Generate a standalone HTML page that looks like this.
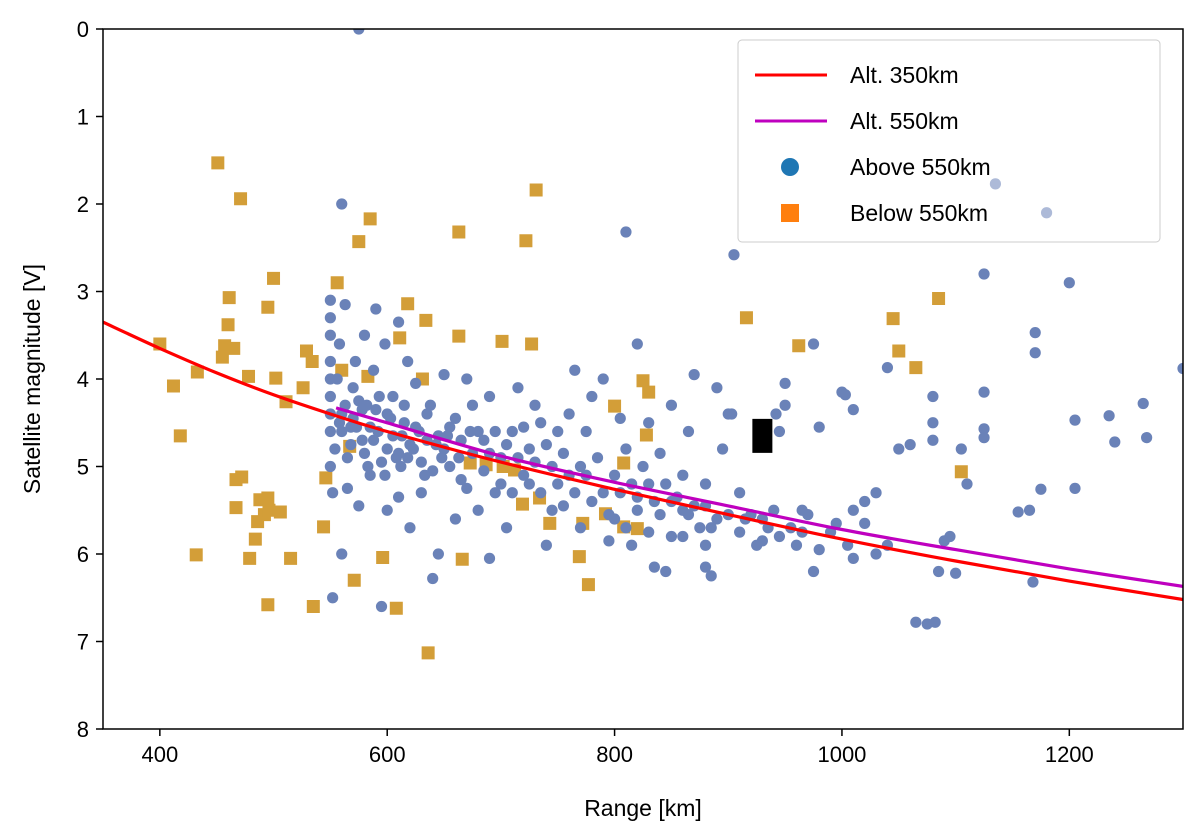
<!DOCTYPE html>
<html><head><meta charset="utf-8"><style>
html,body{margin:0;padding:0;background:#fff;}
svg{display:block;font-family:"Liberation Sans","DejaVu Sans",sans-serif;}
</style></head><body>
<svg id="chart" width="1200" height="838" viewBox="0 0 1200 838" xmlns="http://www.w3.org/2000/svg">
<g id="pts"></g>
<g id="curves"></g>
<rect x="103" y="29" width="1080" height="700" fill="none" stroke="#000" stroke-width="1.5"/>
<g id="axes"></g>
<text x="643" y="816" font-size="23" text-anchor="middle">Range [km]</text>
<text transform="translate(40,379) rotate(-90)" font-size="23" text-anchor="middle">Satellite magnitude [V]</text>
<g>
<rect x="738" y="40" width="422" height="202" rx="4" fill="#fff" fill-opacity="0.85" stroke="#ccc"/>
<line x1="755" y1="75" x2="827" y2="75" stroke="#ff0000" stroke-width="3"/>
<text x="850" y="83" font-size="23">Alt. 350km</text>
<line x1="755" y1="121" x2="827" y2="121" stroke="#bf00bf" stroke-width="3"/>
<text x="850" y="129" font-size="23">Alt. 550km</text>
<circle cx="790" cy="167" r="9" fill="#1f77b4"/>
<text x="850" y="175" font-size="23">Above 550km</text>
<rect x="781" y="204" width="18" height="18" fill="#ff7f0e"/>
<text x="850" y="221" font-size="23">Below 550km</text>
</g>
<g id="over"></g>
</svg>
<script>
const xTicks=[400,600,800,1000,1200];
const yTicks=[0,1,2,3,4,5,6,7,8];
const redRange=[350,400,450,500,550,600,700,800,900,1000,1100,1200,1300];
const redMag=[3.35,3.65,3.93,4.18,4.4,4.6,4.95,5.26,5.55,5.83,6.08,6.31,6.52];
const magentaRange=[555,600,700,800,900,1000,1100,1200,1300];
const magentaMag=[4.33,4.5,4.88,5.18,5.45,5.72,5.95,6.17,6.37];
const belowPts=[[400,3.6],[412,4.08],[418,4.65],[433,3.92],[432,6.01],[451,1.53],[471,1.94],[461,3.07],[460,3.38],[457,3.62],[455,3.75],[465,3.65],[478,3.97],[467,5.15],[472,5.12],[467,5.47],[479,6.05],[484,5.83],[486,5.63],[488,5.38],[495,5.36],[492,5.55],[496,5.5],[506,5.52],[495,6.58],[500,2.85],[495,3.18],[502,3.99],[511,4.26],[515,6.05],[526,4.1],[529,3.68],[534,3.8],[535,6.6],[544,5.69],[546,5.13],[556,2.9],[560,3.9],[567,4.77],[575,2.43],[571,6.3],[583,3.97],[585,2.17],[596,6.04],[608,6.62],[611,3.53],[618,3.14],[634,3.33],[631,4.0],[636,7.13],[663,2.32],[663,3.51],[666,6.06],[673,4.96],[687,4.98],[702,5.0],[701,3.57],[712,5.04],[719,5.43],[722,2.42],[727,3.6],[731,1.84],[734,5.36],[743,5.65],[769,6.03],[772,5.65],[777,6.35],[792,5.54],[800,4.31],[808,4.96],[808,5.69],[820,5.71],[825,4.02],[830,4.15],[828,4.64],[916,3.3],[962,3.62],[1045,3.31],[1050,3.68],[1065,3.87],[1085,3.08],[1105,5.06]];
const abovePts=[[560,2.0],[810,2.32],[905,2.58],[1200,2.9],[1125,2.8],[1170,3.47],[1170,3.7],[1300,3.88],[1265,4.28],[1268,4.67],[1240,4.72],[1235,4.42],[1205,4.47],[1205,5.25],[1175,5.26],[1165,5.5],[1155,5.52],[1168,6.32],[1125,4.57],[1125,4.67],[1125,4.15],[1105,4.8],[1110,5.2],[1100,6.22],[1085,6.2],[1090,5.85],[1095,5.8],[1080,4.5],[1080,4.7],[1080,4.2],[1050,4.8],[1060,4.75],[1040,3.87],[1065,6.78],[1075,6.8],[1082,6.78],[1040,5.9],[1030,5.3],[1030,6.0],[1020,5.65],[1020,5.4],[1010,5.5],[1005,5.9],[1010,6.05],[1010,4.35],[1000,4.15],[1003,4.18],[975,3.6],[980,4.55],[995,5.65],[975,6.2],[980,5.95],[965,5.75],[965,5.5],[955,5.7],[950,4.05],[950,4.3],[942,4.4],[945,4.6],[940,5.5],[930,5.6],[930,5.85],[925,5.9],[915,5.6],[910,5.3],[903,4.4],[900,4.4],[895,4.8],[890,4.1],[885,5.7],[880,5.2],[880,5.9],[880,6.15],[885,6.25],[870,3.95],[865,4.6],[860,5.1],[860,5.5],[850,4.3],[850,5.4],[845,6.2],[840,4.85],[835,6.15],[830,4.5],[830,5.2],[820,3.6],[820,5.35],[815,5.9],[810,4.8],[805,4.45],[800,5.6],[795,5.85],[790,4.0],[780,4.2],[775,4.6],[770,5.0],[765,3.9],[760,4.4],[755,4.85],[750,5.2],[745,5.5],[740,5.9],[735,4.5],[730,4.3],[725,4.8],[720,5.1],[715,4.1],[710,4.6],[705,5.7],[700,4.9],[695,5.3],[690,6.05],[690,4.2],[685,4.7],[680,5.5],[675,4.3],[670,4.0],[665,5.15],[660,5.6],[655,4.55],[650,3.95],[648,4.9],[645,6.0],[640,6.28],[638,4.3],[635,4.7],[630,5.3],[625,4.05],[620,5.7],[618,3.8],[615,4.5],[612,5.0],[610,3.35],[605,4.2],[600,4.8],[600,5.5],[598,3.6],[595,6.6],[592,4.6],[590,3.2],[588,3.9],[585,5.1],[582,4.3],[580,3.5],[578,4.7],[575,5.45],[572,3.8],[570,4.1],[568,4.55],[565,5.25],[563,3.15],[560,6.0],[560,4.4],[558,3.6],[556,4.0],[554,4.8],[552,6.5],[550,3.1],[550,3.3],[550,3.5],[550,3.8],[550,4.0],[550,4.2],[550,4.4],[550,4.6],[550,5.0],[552,5.3],[575,0.0],[610,5.35],[560,4.6],[565,4.9],[570,4.45],[575,4.25],[580,4.85],[585,4.55],[590,4.35],[595,4.95],[600,4.4],[605,4.65],[610,4.85],[615,4.3],[620,4.75],[625,4.55],[630,4.95],[635,4.4],[640,5.05],[645,4.65],[650,4.8],[655,5.0],[660,4.45],[665,4.7],[670,5.25],[675,4.85],[680,4.6],[685,5.05],[690,4.85],[695,4.6],[700,5.2],[705,4.75],[710,5.3],[715,4.9],[720,4.55],[725,5.2],[730,4.95],[735,5.3],[740,4.75],[745,5.0],[750,4.6],[755,5.45],[760,5.1],[765,5.3],[770,5.7],[775,5.1],[780,5.4],[785,4.9],[790,5.3],[795,5.55],[800,5.1],[805,5.3],[810,5.7],[815,5.2],[820,5.5],[825,5.0],[830,5.75],[835,5.4],[840,5.55],[845,5.2],[850,5.8],[855,5.35],[860,5.8],[865,5.55],[870,5.45],[875,5.7],[880,5.45],[890,5.6],[900,5.55],[910,5.75],[920,5.55],[935,5.7],[945,5.8],[960,5.9],[970,5.55],[990,5.75],[558,4.5],[563,4.3],[568,4.75],[573,4.55],[578,4.35],[583,5.0],[588,4.7],[593,4.2],[598,5.1],[603,4.45],[608,4.9],[613,4.65],[618,4.9],[623,4.8],[628,4.6],[633,5.1],[643,4.75],[653,4.65],[663,4.9],[673,4.6]];
const overPts=[[1135,1.77],[1180,2.1]];
const markerPt=[930,4.65];

const NS="http://www.w3.org/2000/svg";
const X0=103,X1=1183,Y0=29,Y1=729,RMIN=350,RMAX=1300,MMIN=0,MMAX=8;
function xs(r){return X0+(r-RMIN)/(RMAX-RMIN)*(X1-X0);}
function ys(m){return Y0+(m-MMIN)/(MMAX-MMIN)*(Y1-Y0);}
function mk(tag,attrs,parent){const e=document.createElementNS(NS,tag);for(const k in attrs)e.setAttribute(k,attrs[k]);parent.appendChild(e);return e;}
const pts=document.getElementById('pts'),curves=document.getElementById('curves'),axes=document.getElementById('axes'),over=document.getElementById('over');
const clipDefs=mk('defs',{},document.getElementById('chart'));
const cp=mk('clipPath',{id:'clip'},clipDefs);mk('rect',{x:X0,y:Y0,width:X1-X0,height:Y1-Y0},cp);
pts.setAttribute('clip-path','url(#clip)');curves.setAttribute('clip-path','url(#clip)');
belowPts.forEach(p=>{const r=mk('rect',{x:xs(p[0])-6.5,y:ys(p[1])-6.5,width:13,height:13,fill:'#d39e38'},pts);

});
abovePts.forEach(p=>{const c=mk('circle',{cx:xs(p[0]),cy:ys(p[1]),r:5.6,fill:'#6a82b8'},pts);

});
overPts.forEach(p=>{const c=mk('circle',{cx:xs(p[0]),cy:ys(p[1]),r:5.6,fill:'#6a82b8','fill-opacity':0.55},over);

});
const bm=mk('rect',{x:xs(markerPt[0])-10,y:ys(markerPt[1])-17,width:20,height:34,fill:'#000'},pts);


function line(rs,ms,color,name){
const P=rs.map((r,i)=>[xs(r),ys(ms[i])]);
let d='M'+P[0][0].toFixed(1)+','+P[0][1].toFixed(1);
for(let i=0;i<P.length-1;i++){const p0=P[Math.max(i-1,0)],p1=P[i],p2=P[i+1],p3=P[Math.min(i+2,P.length-1)];
const c1=[p1[0]+(p2[0]-p0[0])/6,p1[1]+(p2[1]-p0[1])/6],c2=[p2[0]-(p3[0]-p1[0])/6,p2[1]-(p3[1]-p1[1])/6];
d+=' C'+c1[0].toFixed(1)+','+c1[1].toFixed(1)+' '+c2[0].toFixed(1)+','+c2[1].toFixed(1)+' '+p2[0].toFixed(1)+','+p2[1].toFixed(1);}
const p=mk('path',{d:d,fill:'none',stroke:color,'stroke-width':3.2,'stroke-linejoin':'round'},curves);

}
line(redRange,redMag,'#ff0000','curve-alt-350');
line(magentaRange,magentaMag,'#bf00bf','curve-alt-550');
xTicks.forEach(t=>{const x=xs(t);mk('line',{x1:x,y1:Y1,x2:x,y2:Y1+7,stroke:'#000','stroke-width':1.5},axes);
const tx=mk('text',{x:x,y:Y1+33,'font-size':22,'text-anchor':'middle'},axes);tx.textContent=t;

});
yTicks.forEach(t=>{const y=ys(t);mk('line',{x1:X0-7,y1:y,x2:X0,y2:y,stroke:'#000','stroke-width':1.5},axes);
const tx=mk('text',{x:X0-14,y:y+8,'font-size':22,'text-anchor':'end'},axes);tx.textContent=t;

});
</script>
</body></html>
